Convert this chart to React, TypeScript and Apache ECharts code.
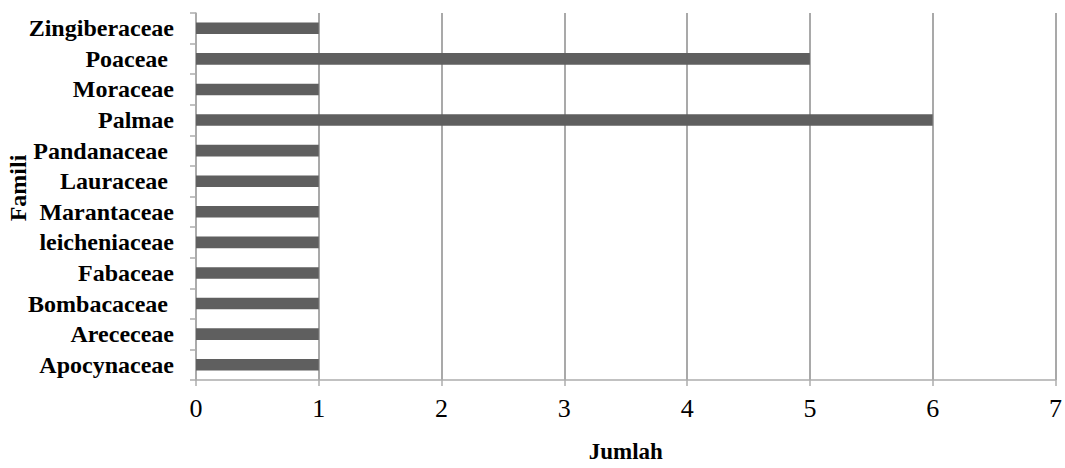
import React, { useEffect, useRef } from "react";
import * as echarts from "echarts";

const categories = [
  "Apocynaceae",
  "Arececeae",
  "Bombacaceae ",
  "Fabaceae",
  "leicheniaceae",
  "Marantaceae",
  "Lauraceae ",
  "Pandanaceae ",
  "Palmae",
  "Moraceae",
  "Poaceae ",
  "Zingiberaceae",
];
const values = [1, 1, 1, 1, 1, 1, 1, 1, 6, 1, 5, 1];
const xTicks = [0, 1, 2, 3, 4, 5, 6, 7];

export default function App() {
  const ref = useRef<HTMLDivElement>(null);
  useEffect(() => {
    if (!ref.current) return;
    const chart = echarts.init(ref.current, null, { renderer: "svg" });
    chart.setOption({
      animation: false,
      backgroundColor: "#ffffff",
      grid: { left: 196, right: 6, top: 13, bottom: 85, containLabel: false },
      xAxis: {
        type: "value",
        min: xTicks[0],
        max: xTicks[xTicks.length - 1],
        interval: 1,
        name: "Jumlah",
        nameLocation: "middle",
        nameGap: 60,
        nameTextStyle: {
          fontFamily: "Liberation Serif",
          fontWeight: "bold",
          fontSize: 23,
          color: "#000",
        },
        axisLine: { show: true, lineStyle: { color: "#acacac", width: 1.5 } },
        axisTick: { show: true, length: 6, lineStyle: { color: "#acacac", width: 1.5 } },
        axisLabel: {
          margin: 15,
          fontFamily: "Liberation Serif",
          fontSize: 26,
          color: "#000",
        },
        splitLine: { show: true, lineStyle: { color: "#8c8c8c", width: 1.5 } },
      },
      yAxis: {
        type: "category",
        data: categories,
        axisLine: { show: true, lineStyle: { color: "#acacac", width: 1.5 } },
        axisTick: {
          show: true,
          length: 6,
          interval: 0,
          alignWithLabel: false,
          lineStyle: { color: "#acacac", width: 1.5 },
        },
        axisLabel: {
          interval: 0,
          margin: 22,
          fontFamily: "Liberation Serif",
          fontWeight: "bold",
          fontSize: 24,
          color: "#000",
        },
        splitLine: { show: false },
      },
      graphic: [
        {
          type: "text",
          x: 18,
          y: 188,
          rotation: Math.PI / 2,
          style: {
            text: "Famili",
            fontFamily: "Liberation Serif",
            fontWeight: "bold",
            fontSize: 24,
            fill: "#000",
            align: "center",
            verticalAlign: "middle",
          },
        },
      ],
      series: [
        {
          type: "bar",
          data: values,
          barCategoryGap: "62%",
          itemStyle: { color: "#5f5f5f" },
        },
      ],
    });
    return () => chart.dispose();
  }, []);
  return <div ref={ref} style={{ width: 1065, height: 468, position: "absolute", left: 0, top: 0 }} />;
}
